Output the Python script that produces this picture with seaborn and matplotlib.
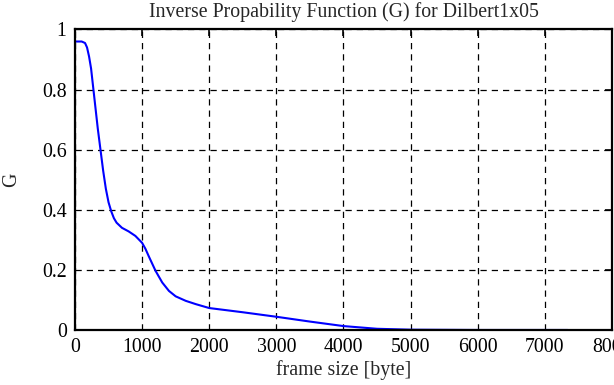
import pandas as pd
import matplotlib
matplotlib.use("Agg")
import matplotlib.pyplot as plt
import seaborn as sns

# values
frame_size = [0, 100, 150, 180, 210, 240, 270, 300, 340, 380, 420, 460, 500, 540,
              580, 620, 700, 800, 900, 1000, 1050, 1100, 1200, 1300, 1400, 1500,
              1650, 1800, 2000, 2500, 3000, 3500, 4000, 4500, 5000, 6000, 7340]
g_values = [0.96, 0.96, 0.955, 0.94, 0.91, 0.87, 0.81, 0.75, 0.67, 0.60, 0.53,
            0.47, 0.425, 0.395, 0.372, 0.357, 0.34, 0.328, 0.313, 0.29, 0.27,
            0.245, 0.197, 0.158, 0.13, 0.112, 0.097, 0.086, 0.073, 0.059, 0.044,
            0.028, 0.013, 0.004, 0.001, 0.0, 0.0]
x_ticks = [0, 1000, 2000, 3000, 4000, 5000, 6000, 7000, 8000]
y_ticks = [0, 0.2, 0.4, 0.6, 0.8, 1]
y_labels = ["0", "0.2", "0.4", "0.6", "0.8", "1"]

df = pd.DataFrame({"frame size": frame_size, "G": g_values})

sns.set_style("white")
plt.rcParams["font.family"] = ["Liberation Serif", "DejaVu Serif"]
plt.rcParams["font.size"] = 14.3

fig = plt.figure(figsize=(6.14, 3.85), dpi=100)
ax = fig.add_axes([0.1221, 0.1429, 0.8746, 0.7805])

sns.lineplot(data=df, x="frame size", y="G", ax=ax, color="#0000ff", linewidth=1.5)

ax.set_xlim(0, 8000)
ax.set_ylim(0, 1)
ax.set_xticks(x_ticks)
ax.set_yticks(y_ticks)
ax.set_yticklabels(y_labels)
ax.grid(True, color="black", linestyle=(0, (5, 4)), linewidth=0.9)
ax.tick_params(direction="in", length=5, width=1.2, colors="black",
               top=True, right=True, labelsize=14.3, pad=6)
for s in ax.spines.values():
    s.set_color("black")
    s.set_linewidth(1.6)

ax.set_title("Inverse Propability Function (G) for Dilbert1x05", fontsize=14.3, pad=9)
ax.set_xlabel("frame size [byte]", fontsize=14.3, labelpad=2)
ax.set_ylabel("G", fontsize=14.3, labelpad=15)

fig.savefig("out.png", dpi=100)
